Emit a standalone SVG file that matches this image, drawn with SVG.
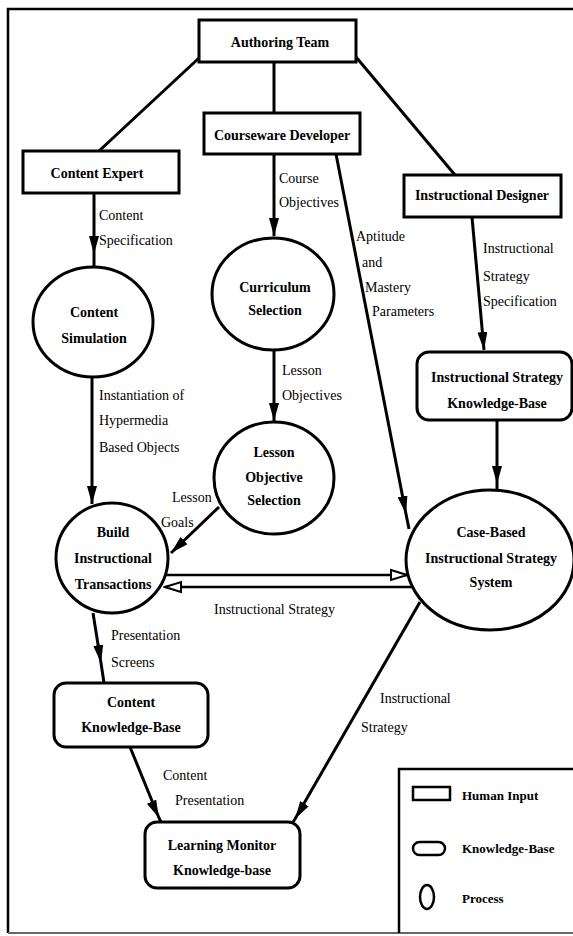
<svg xmlns="http://www.w3.org/2000/svg" width="573" height="936" viewBox="0 0 573 936">
  <style>
    .box { fill: #fff; stroke: #000; stroke-width: 3; }
    .proc { fill: #fff; stroke: #000; stroke-width: 3; }
    .node { font-family: "Liberation Serif", "Times New Roman", serif; font-size: 14px; font-weight: bold; fill: #000; text-anchor: middle; }
    .lbl { font-family: "Liberation Serif", "Times New Roman", serif; font-size: 14px; fill: #000; }
    .leg { font-family: "Liberation Serif", "Times New Roman", serif; font-size: 13px; font-weight: bold; fill: #000; }
    .edge { fill: none; stroke: #000; stroke-width: 3; }
    .flow { fill: none; stroke: #000; stroke-width: 2.5; }
    .frame { fill: none; stroke: #000; stroke-width: 2.5; }
  </style>
  <defs>
    <marker id="head" viewBox="0 0 18 10" markerUnits="userSpaceOnUse" markerWidth="18" markerHeight="10" refX="18" refY="5" orient="auto">
      <path d="M0,0 L18,5 L0,10 z" fill="#000"/>
    </marker>
    <marker id="open" viewBox="0 0 20 14" markerUnits="userSpaceOnUse" markerWidth="20" markerHeight="14" refX="18" refY="7" orient="auto">
      <path d="M2,2 L18,7 L2,12 z" fill="#fff" stroke="#000" stroke-width="2"/>
    </marker>
  </defs>

  <!-- outer frame -->
  <path class="frame" d="M573,9 L8,9 L8,933"/>
  <line x1="8" y1="933" x2="573" y2="933" stroke="#666" stroke-width="2"/>

  <!-- connectors -->
  <g id="connectors">
    <line class="edge" x1="199" y1="58" x2="99" y2="151"/>
    <line class="edge" x1="274" y1="62" x2="274" y2="113"/>
    <line class="edge" x1="356" y1="57" x2="455" y2="175"/>
    <path class="edge" d="M94,193 L94,254 L94,267" marker-mid="url(#head)"/>
    <path class="edge" d="M274,154 L274,236" marker-end="url(#head)"/>
    <path class="edge" d="M336,154 L406,514 L409,529" marker-mid="url(#head)"/>
    <path class="edge" d="M472,217 L484,350" marker-end="url(#head)"/>
    <path class="edge" d="M497,420 L497,484 L497,491" marker-mid="url(#head)"/>
    <path class="edge" d="M274,350 L274,421" marker-end="url(#head)"/>
    <path class="edge" d="M92,377 L92,504" marker-end="url(#head)"/>
    <path class="edge" d="M219,507 L171,553" marker-end="url(#head)"/>
    <path class="flow" d="M166,575 L407,575" marker-end="url(#open)"/>
    <path class="flow" d="M412,587 L165,587" marker-end="url(#open)"/>
    <path class="edge" d="M93,613 L101,663 L104,683" marker-mid="url(#head)"/>
    <path class="edge" d="M130,747 L159,818 L161,822" marker-mid="url(#head)"/>
    <path class="edge" d="M420,602 L295,819 L293,822" marker-mid="url(#head)"/>
  </g>

  <!-- connector labels -->
  <g id="labels">
    <text class="lbl" x="99" y="220">Content</text>
    <text class="lbl" x="99" y="245">Specification</text>
    <text class="lbl" x="279" y="183">Course</text>
    <text class="lbl" x="279" y="207">Objectives</text>
    <text class="lbl" x="356" y="241">Aptitude</text>
    <text class="lbl" x="362" y="267">and</text>
    <text class="lbl" x="365" y="292">Mastery</text>
    <text class="lbl" x="372" y="316">Parameters</text>
    <text class="lbl" x="483" y="253">Instructional</text>
    <text class="lbl" x="483" y="281">Strategy</text>
    <text class="lbl" x="483" y="306">Specification</text>
    <text class="lbl" x="282" y="375">Lesson</text>
    <text class="lbl" x="282" y="400">Objectives</text>
    <text class="lbl" x="99" y="400">Instantiation of</text>
    <text class="lbl" x="99" y="425">Hypermedia</text>
    <text class="lbl" x="99" y="452">Based Objects</text>
    <text class="lbl" x="172" y="502">Lesson</text>
    <text class="lbl" x="161" y="527">Goals</text>
    <text class="lbl" x="214" y="614">Instructional Strategy</text>
    <text class="lbl" x="111" y="640">Presentation</text>
    <text class="lbl" x="111" y="667">Screens</text>
    <text class="lbl" x="163" y="780">Content</text>
    <text class="lbl" x="175" y="805">Presentation</text>
    <text class="lbl" x="380" y="703">Instructional</text>
    <text class="lbl" x="361" y="732">Strategy</text>
  </g>

  <!-- human input nodes -->
  <g id="authoring-team">
    <rect class="box" x="199" y="20" width="157" height="42"/>
    <text class="node" x="280" y="47">Authoring Team</text>
  </g>
  <g id="courseware-developer">
    <rect class="box" x="204" y="113" width="156" height="41"/>
    <text class="node" x="282" y="140">Courseware Developer</text>
  </g>
  <g id="content-expert">
    <rect class="box" x="23" y="151" width="156" height="42"/>
    <text class="node" x="97" y="178">Content Expert</text>
  </g>
  <g id="instructional-designer">
    <rect class="box" x="404" y="175" width="157" height="42"/>
    <text class="node" x="482" y="200">Instructional Designer</text>
  </g>

  <!-- processes -->
  <g id="content-simulation">
    <ellipse class="proc" cx="93" cy="322" rx="60" ry="55"/>
    <text class="node" x="94" y="317">Content</text>
    <text class="node" x="94" y="343">Simulation</text>
  </g>
  <g id="curriculum-selection">
    <ellipse class="proc" cx="273" cy="294" rx="61" ry="56"/>
    <text class="node" x="275" y="292">Curriculum</text>
    <text class="node" x="275" y="315">Selection</text>
  </g>
  <g id="lesson-objective-selection">
    <ellipse class="proc" cx="274" cy="478" rx="60" ry="56"/>
    <text class="node" x="274" y="457">Lesson</text>
    <text class="node" x="274" y="482">Objective</text>
    <text class="node" x="274" y="505">Selection</text>
  </g>
  <g id="build-instructional-transactions">
    <ellipse class="proc" cx="112" cy="558" rx="56" ry="55"/>
    <text class="node" x="113" y="537">Build</text>
    <text class="node" x="113" y="563">Instructional</text>
    <text class="node" x="113" y="589">Transactions</text>
  </g>
  <g id="case-based-system">
    <ellipse class="proc" cx="490" cy="560" rx="84" ry="70"/>
    <text class="node" x="491" y="537">Case-Based</text>
    <text class="node" x="491" y="563">Instructional Strategy</text>
    <text class="node" x="491" y="587">System</text>
  </g>

  <!-- knowledge bases -->
  <g id="strategy-kb">
    <rect class="box" x="417" y="352" width="155" height="68" rx="12"/>
    <text class="node" x="497" y="382">Instructional Strategy</text>
    <text class="node" x="497" y="408">Knowledge-Base</text>
  </g>
  <g id="content-kb">
    <rect class="box" x="54" y="683" width="154" height="64" rx="12"/>
    <text class="node" x="131" y="707">Content</text>
    <text class="node" x="131" y="732">Knowledge-Base</text>
  </g>
  <g id="learning-monitor-kb">
    <rect class="box" x="145" y="822" width="155" height="66" rx="12"/>
    <text class="node" x="222" y="850">Learning Monitor</text>
    <text class="node" x="222" y="875">Knowledge-base</text>
  </g>

  <!-- legend -->
  <g id="legend">
    <path class="frame" d="M573,769 L399,769 L399,933"/>
    <rect x="413" y="787" width="37" height="13" fill="#fff" stroke="#000" stroke-width="2.5"/>
    <text class="leg" x="462" y="800">Human Input</text>
    <rect x="413" y="842" width="32" height="13" rx="6.5" fill="#fff" stroke="#000" stroke-width="2.5"/>
    <text class="leg" x="462" y="853">Knowledge-Base</text>
    <ellipse cx="427" cy="897" rx="7" ry="12" fill="#fff" stroke="#000" stroke-width="2.5"/>
    <text class="leg" x="462" y="903">Process</text>
  </g>
</svg>
